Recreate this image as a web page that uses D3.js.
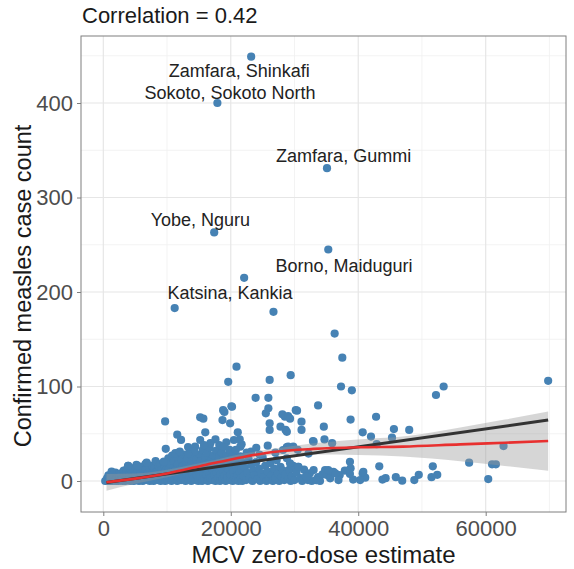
<!DOCTYPE html>
<html>
<head>
<meta charset="utf-8">
<script src="https://cdn.jsdelivr.net/npm/d3@7"></script>
<style>
  html, body { margin: 0; padding: 0; background: #fff; }
  svg { display: block; font-family: "Liberation Sans", Arial, sans-serif; }
</style>
</head>
<body>
<svg id="chart" width="574" height="569"></svg>
<script>
// ---------------- DATA ----------------
const titleText = "Correlation = 0.42";
const xTitle = "MCV zero-dose estimate";
const yTitle = "Confirmed measles case count";

const xTicks = [0, 20000, 40000, 60000];
const xMinor = [10000, 30000, 50000, 70000];
const yTicks = [0, 100, 200, 300, 400];
const yMinor = [50, 150, 250, 350, 450];

// scatter points [MCV zero-dose estimate, confirmed cases]
const points = [
  // dense low cluster 0-3k
  [300,0],[500,1],[600,3],[700,0],[800,2],[900,5],[1000,1],[1100,0],[1200,4],[1300,7],[1400,2],[1500,0],[1600,3],[1700,6],[1800,1],[1900,9],[2000,0],[2100,4],[2200,2],[2300,7],[2400,0],[2500,3],[2600,5],[2700,1],[2800,8],[2900,2],[3000,0],
  // 3-6k
  [3100,4],[3200,11],[3300,1],[3400,6],[3500,0],[3600,9],[3700,3],[3800,14],[3900,16],[4000,2],[4100,7],[4200,0],[4300,12],[4400,4],[4500,1],[4600,9],[4700,5],[4800,0],[4900,14],[5000,3],[5100,7],[5200,17],[5300,1],[5400,10],[5500,5],[5600,0],[5700,13],[5800,2],[5900,8],
  // 6-10k
  [6000,4],[6100,15],[6200,0],[6300,10],[6400,6],[6500,2],[6600,18],[6700,12],[6800,19],[6900,1],[7000,8],[7100,4],[7200,14],[7300,0],[7400,11],[7500,6],[7600,2],[7700,16],[7800,9],[7900,0],[8000,13],[8100,5],[8200,21],[8300,3],[8400,10],[8500,7],[8600,1],[8700,15],[8800,4],[8900,18],[9000,0],[9100,9],[9200,12],[9300,2],[9400,6],[9500,20],[9600,16],[9700,0],[9800,11],[9900,4],
  // 10-15k
  [10000,7],[10100,1],[10200,24],[10300,13],[10400,3],[10500,18],[10600,9],[10700,0],[10800,27],[10900,5],[11000,14],[11100,21],[11200,2],[11300,11],[11400,7],[11500,26],[11600,0],[11700,17],[11800,4],[11900,30],[12000,9],[12100,13],[12200,1],[12300,22],[12400,6],[12500,16],[12600,3],[12700,28],[12800,11],[12900,0],[13000,19],[13100,8],[13200,24],[13300,2],[13400,14],[13500,5],[13600,31],[13700,10],[13800,0],[13900,20],[14000,7],[14100,26],[14200,3],[14300,15],[14400,12],[14500,1],[14600,23],[14700,6],[14800,18],[14900,0],
  // 15-22k
  [15000,10],[15100,28],[15200,4],[15300,21],[15400,14],[15500,0],[15600,33],[15700,8],[15800,17],[15900,2],[16000,25],[16100,12],[16200,6],[16300,30],[16400,0],[16500,19],[16600,9],[16700,35],[16800,3],[16900,14],[17000,23],[17100,1],[17200,11],[17300,27],[17400,6],[17500,16],[17600,0],[17700,32],[17800,9],[17900,20],[18000,3],[18100,13],[18200,26],[18300,0],[18400,7],[18500,18],[18600,30],[18700,2],[18800,11],[18900,22],[19000,5],[19100,15],[19200,0],[19300,27],[19400,9],[19500,3],[19600,19],[19700,12],[19800,33],[19900,1],[20000,7],[20100,24],[20200,15],[20300,0],[20400,10],[20500,29],[20600,4],[20700,18],[20800,1],[20900,13],[21000,22],[21100,6],[21200,0],[21300,16],[21400,9],[21500,26],[21600,3],[21700,12],[21800,0],[21900,20],
  // 22-30k
  [22000,5],[22200,14],[22400,1],[22600,9],[22800,23],[23000,3],[23200,17],[23400,0],[23600,11],[23800,6],[24000,20],[24200,2],[24400,13],[24600,0],[24800,8],[25000,25],[25200,4],[25400,16],[25600,0],[25800,10],[26000,2],[26200,19],[26400,6],[26600,0],[26800,13],[27000,3],[27200,22],[27400,8],[27600,0],[27800,15],[28000,4],[28200,11],[28400,1],[28600,7],[28800,24],[29000,2],[29200,12],[29400,0],[29600,5],[29800,16],
  // 30-36k
  [30000,1],[30300,9],[30600,15],[30900,3],[31200,0],[31500,12],[31800,5],[32100,1],[32400,8],[32700,0],[33000,11.6],[33400,1],[33700,4],[34000,0],[34400,7],[34800,11.6],[35100,6.3],[35600,2.8],
  // labelled and high points
  [23200,449],[17900,400],[35100,331],[17400,263],[35300,245],[22100,215],[11200,183],[26700,179],
  [36300,156],[20900,121],[19600,105],[26100,107],[29400,112],[23900,88],[25900,88],[20100,79],[33700,80],
  [37500,130.5],[37300,100],[39000,96],[52200,91],[53400,100],[69800,106],
  // mid-range points
  [9700,63],[11600,49],[12200,43.5],[9800,34],[11300,29.5],[12000,31],[13300,36],[6800,19.5],[9500,20.5],[5400,16],[3900,16],[1300,10],[800,6],
  [19000,73],[18700,64.5],[19900,61],[15200,67.4],[15700,66],[16000,51.5],[15200,43.4],[21100,51.5],[21400,44],[21700,38.8],[18200,38],
  [25900,77],[26100,61],[26100,54],[25800,37.4],[27800,57.5],[28500,68],[28100,70.6],[14400,36.3],[23200,31],[28200,32.8],
  [18800,75],[20200,78.6],[20500,43.4],[21500,36.3],[25500,71.6],[28600,54],[30200,75],[29000,68.8],[29300,66],[31100,62.8],[31100,54],[34600,57.5],[32900,42.3],[24000,35.2],[29000,36.3],[29800,36.3],[14300,31],[13300,28.6],
  [30400,74.4],[28800,52],[28800,36],[32200,29],[33000,41.6],[35900,40],[34700,44],[38800,65],[42800,68],[40700,51.5],[42000,47],[45600,55],[48000,54],[45300,45.8],[42900,39],[62800,37],
  [16800,40],[17600,44],[19300,41],[20800,33],[22500,30],[18900,36],[15800,38],[24500,28],[27000,30],[30500,33],
  // low right
  [38700,20.4],[43300,15.5],[51700,15.5],[57400,19.4],[61000,17.7],[61600,17.7],[60400,2],[52400,6.5],[51500,4],[49500,6.5],[48800,1],[46900,0.3],[45900,4],[44300,3],[43800,1.5],[40700,8],[41100,3.5],[40300,1],[39200,1.5],[38800,13.4],[37900,11],[37100,6.3],[36100,9.8],[36900,1],[33400,1],[31900,4.5],[36400,8],[38700,7.4],[40800,9.8],[35300,11.6],[30600,15],[29300,18.7]
];

// text labels: [text, x position, y position] in data units
const labels = [
  ["Zamfara, Shinkafi", 21330, 427.8],
  ["Sokoto, Sokoto North", 19890, 404.2],
  ["Zamfara, Gummi", 37710, 337.9],
  ["Yobe, Nguru", 15230, 270.1],
  ["Borno, Maiduguri", 37780, 221.5],
  ["Katsina, Kankia", 19890, 192.3]
];

// linear fit (black)
const lmX = [500, 69800];
const lmY = [-1.5, 64.5];

// smooth fit (red) with confidence band
const smX     = [500, 5000, 10000, 16000, 22000, 27000, 33000, 40000, 47000, 56000, 63000, 69800];
const smY     = [-1.4, 2.5, 8, 17, 25.5, 31, 34, 35.7, 36.4, 38.8, 40.5, 42.3];
const smLower = [-10.3, -3, 4, 14, 22, 27.5, 28, 27.5, 26, 21, 16, 10.9];
const smUpper = [7.5, 8, 12, 20, 29, 34.5, 40, 44, 47, 56.5, 65, 73.5];

// ---------------- DRAW ----------------
const svg = d3.select("#chart");
const L = 81, R = 566, T = 36, B = 512;

const x = d3.scaleLinear().domain([-3500, 72600]).range([L, R]);
const y = d3.scaleLinear().domain([-32.8, 470.9]).range([B, T]);

// minor grid
svg.append("g").selectAll("line").data(xMinor).join("line")
  .attr("x1", d => x(d)).attr("x2", d => x(d)).attr("y1", T).attr("y2", B)
  .attr("stroke", "#f0f0f0").attr("stroke-width", 0.8);
svg.append("g").selectAll("line").data(yMinor).join("line")
  .attr("y1", d => y(d)).attr("y2", d => y(d)).attr("x1", L).attr("x2", R)
  .attr("stroke", "#f0f0f0").attr("stroke-width", 0.8);
// major grid
svg.append("g").selectAll("line").data(xTicks).join("line")
  .attr("x1", d => x(d)).attr("x2", d => x(d)).attr("y1", T).attr("y2", B)
  .attr("stroke", "#e6e6e6").attr("stroke-width", 1.2);
svg.append("g").selectAll("line").data(yTicks).join("line")
  .attr("y1", d => y(d)).attr("y2", d => y(d)).attr("x1", L).attr("x2", R)
  .attr("stroke", "#e6e6e6").attr("stroke-width", 1.2);

// points
svg.append("g").selectAll("circle").data(points).join("circle")
  .attr("cx", d => x(d[0])).attr("cy", d => y(d[1])).attr("r", 4.1)
  .attr("fill", "#4682b4");

// band
const band = smX.map((v, i) => ({x: v, lo: smLower[i], hi: smUpper[i]}));
svg.append("path").datum(band)
  .attr("d", d3.area().curve(d3.curveMonotoneX).x(d => x(d.x)).y0(d => y(d.lo)).y1(d => y(d.hi)))
  .attr("fill", "#999999").attr("fill-opacity", 0.4);

// black linear fit
svg.append("path").datum(lmX.map((v, i) => [v, lmY[i]]))
  .attr("d", d3.line().x(d => x(d[0])).y(d => y(d[1])))
  .attr("fill", "none").attr("stroke", "#333333").attr("stroke-width", 3);

// red smooth
svg.append("path").datum(smX.map((v, i) => [v, smY[i]]))
  .attr("d", d3.line().curve(d3.curveMonotoneX).x(d => x(d[0])).y(d => y(d[1])))
  .attr("fill", "none").attr("stroke", "#e8302f").attr("stroke-width", 2.6);

// labels
svg.append("g").selectAll("text").data(labels).join("text")
  .attr("x", d => x(d[1])).attr("y", d => y(d[2]))
  .attr("text-anchor", "middle").attr("font-size", 18).attr("fill", "#222")
  .text(d => d[0]);

// panel border
svg.append("rect").attr("x", L).attr("y", T).attr("width", R - L).attr("height", B - T)
  .attr("fill", "none").attr("stroke", "#7f7f7f").attr("stroke-width", 1);

// axes
const xAxis = svg.append("g").attr("transform", `translate(0,${B})`)
  .call(d3.axisBottom(x).tickValues(xTicks).tickFormat(d3.format("d")).tickSizeOuter(0).tickSize(4).tickPadding(4));
const yAxis = svg.append("g").attr("transform", `translate(${L},0)`)
  .call(d3.axisLeft(y).tickValues(yTicks).tickFormat(d3.format("d")).tickSizeOuter(0).tickSize(4).tickPadding(4));
[xAxis, yAxis].forEach(a => {
  a.select(".domain").remove();
  a.selectAll(".tick line").attr("stroke", "#7f7f7f");
  a.selectAll(".tick text").attr("fill", "#4d4d4d").attr("font-size", 22)
    .attr("font-family", "Liberation Sans, Arial, sans-serif");
});

// titles
svg.append("text").attr("x", 82).attr("y", 23).attr("font-size", 22).attr("fill", "#1a1a1a")
  .text(titleText);
svg.append("text").attr("x", (L + R) / 2).attr("y", 563).attr("text-anchor", "middle")
  .attr("font-size", 24).attr("fill", "#1a1a1a").text(xTitle);
svg.append("text").attr("transform", `translate(31,${(T + B) / 2 + 12}) rotate(-90)`)
  .attr("text-anchor", "middle").attr("font-size", 23.5).attr("fill", "#1a1a1a").text(yTitle);
</script>
</body>
</html>
